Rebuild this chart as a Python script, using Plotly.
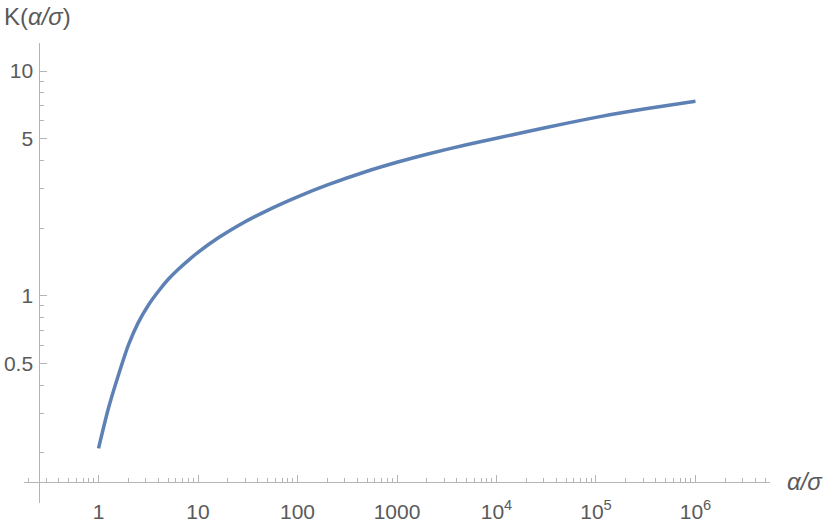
import plotly.graph_objects as go

# data (log-log)
ratio = [1, 1.25, 1.6, 2, 2.5, 3.2, 4, 5, 6.3, 8, 10, 16, 25, 50, 100, 200, 500,
         1000, 2000, 5000, 1e4, 2e4, 5e4, 1e5, 2e5, 5e5, 1e6]
K = [0.209, 0.312, 0.449, 0.604, 0.757, 0.914, 1.047, 1.180, 1.308, 1.437, 1.560,
     1.810, 2.045, 2.399, 2.754, 3.112, 3.581, 3.926, 4.266, 4.699, 5.023, 5.370,
     5.848, 6.223, 6.577, 7.015, 7.345]

x_tickvals = [1, 10, 100, 1000, 1e4, 1e5, 1e6]
x_ticktext = ["1", "10", "100", "1000", "10<sup>4</sup>", "10<sup>5</sup>", "10<sup>6</sup>"]
y_tickvals = [0.5, 1, 5, 10]
y_ticktext = ["0.5", "1", "5", "10"]

W, H = 830, 531
L, R, T, B = 24, 60, 43, 28
pw, ph = W - L - R, H - T - B

axis_col = "#b4b4b4"
label_col = "#5a5a5a"
font_fam = "Liberation Sans, Arial, sans-serif"

fig = go.Figure()
fig.add_trace(go.Scatter(x=ratio, y=K, mode="lines",
                         line=dict(color="#5e81b5", width=3.5, shape="spline", smoothing=0.6),
                         hoverinfo="skip", showlegend=False))

def px_x(p):
    # page pixel -> paper fraction
    return (p - L) / pw

def px_y(p):
    return (H - B - p) / ph

fig.update_layout(
    width=W, height=H,
    margin=dict(l=L, r=R, t=T, b=B, pad=0, autoexpand=False),
    paper_bgcolor="white", plot_bgcolor="white",
    font=dict(family=font_fam, size=21, color=label_col),
    xaxis=dict(type="log", range=[-0.749, 6.749], anchor="free", position=px_y(482.3),
               automargin=False,
               showgrid=False, zeroline=False, showline=True, linecolor=axis_col, linewidth=1,
               ticks="inside", ticklen=7, tickcolor=axis_col, tickwidth=1,
               tickmode="array", tickvals=x_tickvals, ticktext=x_ticktext,
               tickfont=dict(size=21, color=label_col, family=font_fam),
               ticklabelstandoff=10,
               minor=dict(ticks="inside", ticklen=4, dtick="D1", tickcolor=axis_col, showgrid=False)),
    yaxis=dict(type="log", range=[-0.923, 1.125], anchor="free", position=px_x(39.3),
               automargin=False,
               showgrid=False, zeroline=False, showline=True, linecolor=axis_col, linewidth=1,
               ticks="inside", ticklen=7, tickcolor=axis_col, tickwidth=1,
               tickmode="array", tickvals=y_tickvals, ticktext=y_ticktext,
               tickfont=dict(size=21, color=label_col, family=font_fam),
               ticklabelstandoff=2,
               minor=dict(ticks="inside", ticklen=4, dtick="D1", tickcolor=axis_col, showgrid=False)),
    annotations=[
        dict(text="K(<i>α/σ</i>)", xref="paper", yref="paper", x=px_x(2), y=px_y(16),
             xanchor="left", yanchor="middle", showarrow=False,
             font=dict(size=24, color=label_col, family=font_fam)),
        dict(text="<i>α/σ</i>", xref="paper", yref="paper", x=px_x(785), y=px_y(481),
             xanchor="left", yanchor="middle", showarrow=False,
             font=dict(size=24, color=label_col, family=font_fam)),
    ],
)

fig.write_html("out.html",
               config={"displayModeBar": False},
               post_script="document.body.style.margin='0';document.body.style.overflow='hidden';")
